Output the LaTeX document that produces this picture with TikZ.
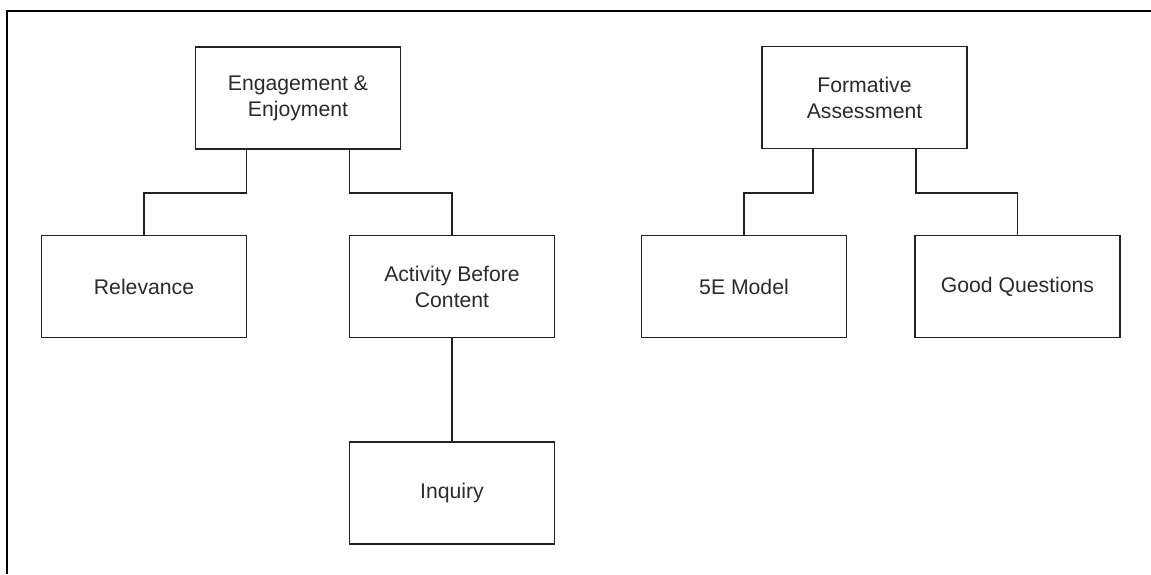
\documentclass[tikz,border=0pt]{standalone}
\usepackage{fontspec}
\setmainfont{Liberation Sans}
\usetikzlibrary{calc}
\definecolor{ink}{HTML}{222222}
\definecolor{txt}{HTML}{2A2A2A}
\tikzset{
  box/.style={draw=ink, line width=1.6pt, minimum width=205pt, minimum height=102pt,
    inner sep=0pt, align=center, text=txt,
    font=\fontsize{21.2pt}{26pt}\selectfont},
  link/.style={draw=ink, line width=1.6pt},
  frameline/.style={draw=black, line width=2pt}
}
\begin{document}
\begin{tikzpicture}[x=1pt, y=-1pt]
  \useasboundingbox (0,0) rectangle (1151,574);
  % outer frame: top and left edges
  \coordinate (ftl) at (7,11);
  \coordinate (ftr) at (1151,11);
  \coordinate (fbl) at (7,574);
  \draw[frameline] (ftr) -- (ftl) -- (fbl);

  % left tree
  \node[box] (eng) at (298,98) {Engagement \&\\Enjoyment};
  \node[box] (rel) at (144,286.5) {Relevance};
  \node[box] (act) at (452,286.5) {Activity Before\\Content};
  \node[box] (inq) at (452,493) {Inquiry};

  % right tree
  \node[box] (form) at (864.5,97.5) {Formative\\Assessment};
  \node[box] (five) at (744,286.5) {5E Model};
  \node[box] (good) at (1017.5,286.5) {Good Questions};

  % connectors
  \draw[link] ($(eng.south west)!0.25!(eng.south east)$) -- ++(0,43) -| (rel.north);
  \draw[link] ($(eng.south west)!0.75!(eng.south east)$) -- ++(0,43) -| (act.north);
  \draw[link] (act.south) -- (inq.north);
  \draw[link] ($(form.south west)!0.25!(form.south east)$) -- ++(0,43.5) -| (five.north);
  \draw[link] ($(form.south west)!0.75!(form.south east)$) -- ++(0,43.5) -| (good.north);
\end{tikzpicture}
\end{document}
